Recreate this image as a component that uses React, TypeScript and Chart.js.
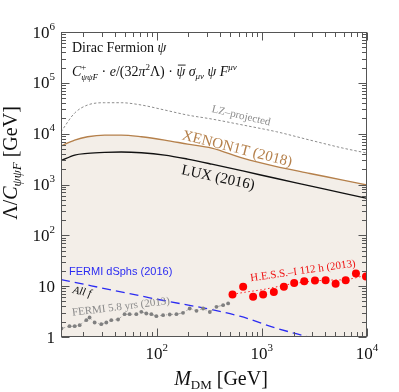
import React, { useEffect, useRef } from "react";
import { Chart, registerables } from "chart.js";

Chart.register(...registerables);

// ---- axis ranges ----
const X_MIN = 12.3;
const X_MAX = 10000;
const Y_MIN = 1;
const Y_MAX = 1e6;

// ---- direct detection curves (GeV vs GeV) ----
const massGrid = [12.3, 16.6, 22, 32, 46, 71.5, 119, 197, 334, 659, 1380, 2865, 5900, 10000];
const lzValues = [10900, 25500, 36600, 40600, 40600, 36600, 29200, 23200, 19400, 14800, 10900, 7480, 5200, 4150];
const xenonValues = [5700, 7480, 8690, 9380, 9380, 8690, 7480, 6240, 5200, 3300, 2250, 1650, 1220, 975];
const luxValues = [2930, 3790, 4090, 4280, 4350, 4210, 3790, 3160, 2520, 1850, 1310, 940, 675, 532];

// ---- FERMI dSphs (2016) ----
const dsphMass = [12.3, 86, 617, 1330, 2760];
const dsphValues = [13.5, 5.9, 2.57, 1.52, 1.0];

// ---- FERMI 5.8 yrs (2013) ----
const fermiMass = [12.4, 14.8, 16.6, 18.5, 21.4, 23, 25.7, 29.7, 33.2, 37, 42.9, 49.5, 55.3, 64, 71.4, 79.7, 89, 99.3, 115, 133, 154, 178, 206, 239, 276, 320, 370, 428, 478];
const fermiValues = [1.47, 1.63, 1.63, 1.71, 2.14, 2.42, 1.93, 1.79, 1.93, 2.14, 2.21, 2.81, 2.81, 2.81, 3.13, 2.9, 2.81, 2.57, 2.69, 2.77, 2.81, 2.99, 3.64, 3.28, 3.64, 3.1, 3.93, 4.23, 4.57];

// ---- H.E.S.S.-I 112 h (2013) ----
const hessMass = [526, 664, 826, 1028, 1300, 1620, 2030, 2530, 3200, 4040, 5030, 6270, 7850, 9780];
const hessValues = [6.86, 9.7, 6.17, 6.86, 7.7, 9.7, 11.6, 12.5, 12.9, 13.1, 11.1, 13.1, 17.8, 15.5];
const hessFitMass = [526, 664, 1028, 2030, 4040, 6270, 10000];
const hessFitValues = [6.9, 7.5, 8.6, 11.3, 13.1, 13.5, 16.5];

// ---- tick decades ----
const yDecades = [0, 1, 2, 3, 4, 5, 6];
const xLabelDecades = [2, 3, 4];

const SERIF = "'Liberation Serif', 'Times New Roman', serif";
const SANS = "'Liberation Sans', Arial, sans-serif";

const FILL = "#f3eee8";
const BROWN = "#b5804b";
const FRAME = "#555555";

type Seg = { t: string; size: number; italic?: boolean; dy?: number; over?: boolean; stack?: Seg };

const pts = (xs: number[], ys: number[]) => xs.map((x, i) => ({ x, y: ys[i] }));

function segFont(s: Seg) {
  return `${s.italic ? "italic " : ""}${s.size}px ${SERIF}`;
}

function segWidth(ctx: CanvasRenderingContext2D, s: Seg) {
  ctx.font = segFont(s);
  let w = ctx.measureText(s.t).width;
  if (s.stack) {
    ctx.font = segFont(s.stack);
    w = Math.max(w, ctx.measureText(s.stack.t).width);
  }
  return w;
}

function richWidth(ctx: CanvasRenderingContext2D, segs: Seg[]) {
  return segs.reduce((a, s) => a + segWidth(ctx, s), 0);
}

function drawRich(ctx: CanvasRenderingContext2D, x: number, y: number, segs: Seg[], color: string) {
  ctx.fillStyle = color;
  ctx.strokeStyle = color;
  ctx.textAlign = "left";
  ctx.textBaseline = "alphabetic";
  let cx = x;
  for (const s of segs) {
    const w = segWidth(ctx, s);
    ctx.font = segFont(s);
    ctx.fillText(s.t, cx, y + (s.dy || 0));
    if (s.over) {
      const tw = ctx.measureText(s.t).width;
      ctx.lineWidth = 0.9;
      ctx.beginPath();
      ctx.moveTo(cx + 1.5, y - s.size * 0.78);
      ctx.lineTo(cx + tw + 0.5, y - s.size * 0.78);
      ctx.stroke();
    }
    if (s.stack) {
      ctx.font = segFont(s.stack);
      ctx.fillText(s.stack.t, cx, y + (s.stack.dy || 0));
    }
    cx += w;
  }
  return cx - x;
}

function drawRotated(
  ctx: CanvasRenderingContext2D,
  text: string,
  font: string,
  color: string,
  cx: number,
  cy: number,
  deg: number
) {
  ctx.save();
  ctx.translate(cx, cy);
  ctx.rotate((deg * Math.PI) / 180);
  ctx.font = font;
  ctx.fillStyle = color;
  ctx.textAlign = "center";
  ctx.textBaseline = "middle";
  ctx.fillText(text, 0, 0);
  ctx.restore();
}

const decorPlugin = {
  id: "decor",
  afterDraw(chart: any) {
    const ctx: CanvasRenderingContext2D = chart.ctx;
    const { left, right, top, bottom } = chart.chartArea;
    const xs = chart.scales.x;
    const ys = chart.scales.y;
    ctx.save();

    // frame
    const L = Math.round(left) + 0.5;
    const R = Math.round(right) - 0.5;
    const T = Math.round(top) + 0.5;
    const B = Math.round(bottom) - 0.5;
    ctx.strokeStyle = FRAME;
    ctx.lineWidth = 1;
    ctx.strokeRect(L, T, R - L, B - T);

    // ticks
    ctx.beginPath();
    for (let e = 1; e <= 4; e++) {
      for (let k = 1; k <= 9; k++) {
        const v = k * Math.pow(10, e);
        if (v < X_MIN || v > X_MAX) continue;
        const px = Math.round(xs.getPixelForValue(v)) + 0.5;
        const len = k === 1 ? 8 : 4.5;
        ctx.moveTo(px, B);
        ctx.lineTo(px, B - len);
        ctx.moveTo(px, T);
        ctx.lineTo(px, T + len);
      }
    }
    for (let e = 0; e <= 6; e++) {
      for (let k = 1; k <= 9; k++) {
        const v = k * Math.pow(10, e);
        if (v < Y_MIN || v > Y_MAX) continue;
        const py = Math.round(ys.getPixelForValue(v)) + 0.5;
        const len = k === 1 ? 8 : 4.5;
        ctx.moveTo(L, py);
        ctx.lineTo(L + len, py);
        ctx.moveTo(R, py);
        ctx.lineTo(R - len, py);
      }
    }
    ctx.stroke();

    // y tick labels
    for (const e of yDecades) {
      const py = ys.getPixelForValue(Math.pow(10, e));
      const segs: Seg[] =
        e === 0
          ? [{ t: "1", size: 17 }]
          : e === 1
          ? [{ t: "10", size: 17 }]
          : [{ t: "10", size: 17 }, { t: String(e), size: 11, dy: -8 }];
      const w = richWidth(ctx, segs);
      drawRich(ctx, left - 6 - w, py + 5.5, segs, "#111");
    }
    // x tick labels
    for (const e of xLabelDecades) {
      const px = xs.getPixelForValue(Math.pow(10, e));
      const segs: Seg[] = [{ t: "10", size: 17 }, { t: String(e), size: 11, dy: -8 }];
      const w = richWidth(ctx, segs);
      drawRich(ctx, px - w / 2, bottom + 22, segs, "#111");
    }

    // x title
    const xt: Seg[] = [
      { t: "M", size: 20, italic: true },
      { t: "DM", size: 13, dy: 4 },
      { t: " [GeV]", size: 20 },
    ];
    const xtw = richWidth(ctx, xt);
    drawRich(ctx, 221 - xtw / 2, 385, xt, "#111");

    // y title
    const yt: Seg[] = [
      { t: "Λ/", size: 20 },
      { t: "C", size: 20, italic: true },
      { t: "ψψF", size: 13, italic: true, dy: 4 },
      { t: " [GeV]", size: 20 },
    ];
    const ytw = richWidth(ctx, yt);
    ctx.save();
    ctx.translate(17, 163);
    ctx.rotate(-Math.PI / 2);
    drawRich(ctx, -ytw / 2, 0, yt, "#111");
    ctx.restore();

    // header text
    drawRich(ctx, left + 11, top + 20, [
      { t: "Dirac Fermion ", size: 14 },
      { t: "ψ", size: 14, italic: true },
    ], "#111");
    drawRich(ctx, left + 11, top + 44, [
      { t: "C", size: 14, italic: true },
      { t: "+", size: 9, dy: -6, stack: { t: "ψψF", size: 9, italic: true, dy: 4 } },
      { t: " · ", size: 14 },
      { t: "e", size: 14, italic: true },
      { t: "/(32", size: 14 },
      { t: "π", size: 14, italic: true },
      { t: "2", size: 9, dy: -6 },
      { t: "Λ) · ", size: 14 },
      { t: "ψ", size: 14, italic: true, over: true },
      { t: " σ", size: 14, italic: true },
      { t: "μν", size: 9, italic: true, dy: 3 },
      { t: " ψ ", size: 14, italic: true },
      { t: "F", size: 14, italic: true },
      { t: "μν", size: 9, italic: true, dy: -6 },
    ], "#111");

    // curve labels
    drawRotated(ctx, "LZ–projected", `11px ${SERIF}`, "#8c8c8c", 241, 116, 13);
    drawRotated(ctx, "XENON1T (2018)", `15px ${SERIF}`, BROWN, 237, 149, 14);
    drawRotated(ctx, "LUX (2016)", `15px ${SERIF}`, "#111", 218, 178, 12);
    ctx.font = `11px ${SANS}`;
    ctx.fillStyle = "#2b2bf2";
    ctx.textAlign = "left";
    ctx.textBaseline = "alphabetic";
    ctx.fillText("FERMI dSphs (2016)", 69, 275);
    drawRotated(ctx, "All f", `italic 11px ${SERIF}`, "#111", 82, 292, 12);
    drawRotated(ctx, "FERMI 5.8 yrs (2013)", `11px ${SERIF}`, "#8a8a8a", 121, 307, -7);
    drawRotated(ctx, "H.E.S.S.–I 112 h (2013)", `11px ${SERIF}`, "#ee1111", 303, 271, -8);

    ctx.restore();
  },
};

export default function App() {
  const canvasRef = useRef<HTMLCanvasElement | null>(null);

  useEffect(() => {
    const canvas = canvasRef.current;
    if (!canvas) return;
    const chart = new Chart(canvas, {
      type: "line",
      data: {
        datasets: [
          {
            label: "H.E.S.S. points",
            data: pts(hessMass, hessValues),
            showLine: false,
            pointRadius: 4,
            pointBackgroundColor: "#ff0000",
            pointBorderColor: "#ff0000",
            pointBorderWidth: 0,
          },
          {
            label: "H.E.S.S. fit",
            data: pts(hessFitMass, hessFitValues),
            borderColor: "#ff2020",
            borderWidth: 1,
            borderDash: [1.5, 2.5],
            pointRadius: 0,
            cubicInterpolationMode: "monotone",
          },
          {
            label: "FERMI 5.8 yrs",
            data: pts(fermiMass, fermiValues),
            borderColor: "#9a9a9a",
            borderWidth: 0.8,
            borderDash: [4, 2, 1, 2],
            pointRadius: 1.9,
            pointBackgroundColor: "#808080",
            pointBorderWidth: 0,
          },
          {
            label: "FERMI dSphs",
            data: pts(dsphMass, dsphValues),
            borderColor: "#2b2bf2",
            borderWidth: 1.3,
            borderDash: [9, 5],
            pointRadius: 0,
            cubicInterpolationMode: "monotone",
          },
          {
            label: "LZ",
            data: pts(massGrid, lzValues),
            borderColor: "#8c8c8c",
            borderWidth: 1,
            borderDash: [2.5, 2],
            pointRadius: 0,
            cubicInterpolationMode: "monotone",
          },
          {
            label: "LUX",
            data: pts(massGrid, luxValues),
            borderColor: "#111111",
            borderWidth: 1.4,
            pointRadius: 0,
            cubicInterpolationMode: "monotone",
          },
          {
            label: "XENON1T",
            data: pts(massGrid, xenonValues),
            borderColor: BROWN,
            borderWidth: 1.4,
            pointRadius: 0,
            fill: "start",
            backgroundColor: FILL,
            cubicInterpolationMode: "monotone",
          },
        ],
      },
      options: {
        animation: false,
        responsive: false,
        devicePixelRatio: 1,
        parsing: true,
        layout: { padding: { left: 61, right: 32, top: 32, bottom: 55 } },
        plugins: { legend: { display: false }, tooltip: { enabled: false } },
        scales: {
          x: { type: "logarithmic", min: X_MIN, max: X_MAX, display: false },
          y: { type: "logarithmic", min: Y_MIN, max: Y_MAX, display: false },
        },
      },
      plugins: [decorPlugin],
    } as any);
    return () => chart.destroy();
  }, []);

  return (
    <div style={{ position: "absolute", left: 0, top: 0, width: 399, height: 392, background: "#fff" }}>
      <canvas ref={canvasRef} width={399} height={392} style={{ display: "block", width: 399, height: 392 }} />
    </div>
  );
}
